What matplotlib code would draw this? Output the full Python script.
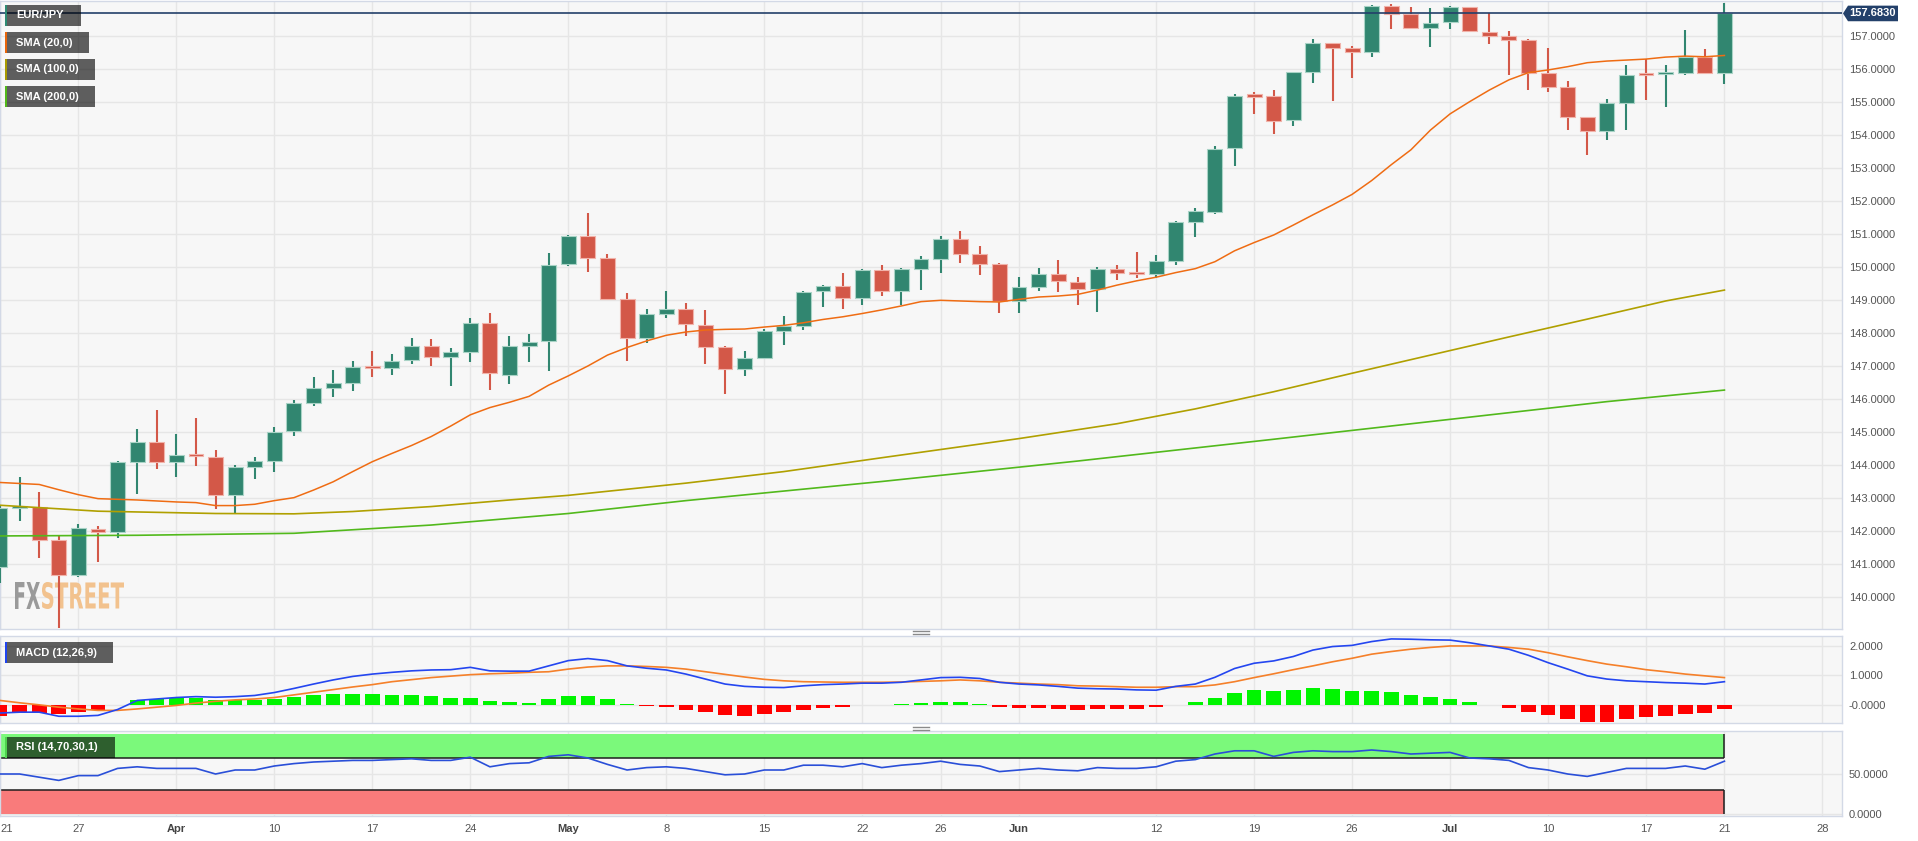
import numpy as np
import pandas as pd
import matplotlib
matplotlib.use('Agg')
import matplotlib.pyplot as plt
from matplotlib.patches import Polygon, Rectangle, PathPatch
from matplotlib.lines import Line2D
from matplotlib.textpath import TextPath
from matplotlib.font_manager import FontProperties
from matplotlib.transforms import Affine2D, IdentityTransform, blended_transform_factory

plt.rcParams['font.family'] = ['Liberation Sans', 'DejaVu Sans']

W, H = 1918, 841

# EUR/JPY daily candles, 2023-03-21 .. 2023-07-21
opens = [140.91, 142.69, 142.72, 141.73, 140.67, 142.06, 141.96, 144.08, 144.70, 144.08,
         144.30, 144.25, 143.08, 143.93, 144.12, 145.03, 145.89, 146.33, 146.47, 146.97,
         146.95, 147.17, 147.60, 147.28, 147.41, 148.29, 146.74, 147.62, 147.75, 150.10,
         150.94, 150.26, 149.04, 147.84, 148.59, 148.72, 148.23, 147.57, 146.90, 147.25,
         148.06, 148.21, 149.26, 149.41, 149.06, 149.90, 149.27, 149.95, 150.23, 150.84,
         150.40, 150.08, 148.97, 149.40, 149.80, 149.56, 149.34, 149.93, 149.82, 149.79,
         150.17, 151.36, 151.67, 153.61, 155.19, 155.18, 154.44, 155.90, 156.78, 156.63,
         156.51, 157.91, 157.66, 157.25, 157.41, 157.87, 157.13, 157.00, 156.88, 155.87,
         155.44, 154.53, 154.12, 154.97, 155.83, 155.84, 155.89, 156.35, 155.89]
highs = [142.75, 143.64, 143.19, 141.85, 142.21, 142.15, 144.12, 145.09, 145.67, 144.94,
         145.42, 144.45, 144.00, 144.24, 145.15, 145.97, 146.67, 146.88, 147.15, 147.45,
         147.36, 147.85, 147.82, 147.55, 148.45, 148.61, 147.91, 147.97, 150.42, 150.97,
         151.63, 150.38, 149.20, 148.72, 149.26, 148.92, 148.69, 147.60, 147.46, 148.13,
         148.50, 149.27, 149.44, 149.81, 149.93, 150.05, 149.96, 150.33, 150.94, 151.08,
         150.64, 150.11, 149.69, 149.96, 150.20, 149.71, 150.01, 150.05, 150.45, 150.35,
         151.38, 151.78, 153.68, 155.24, 155.31, 155.36, 155.92, 156.91, 156.80, 156.70,
         157.93, 157.97, 157.89, 157.85, 157.91, 157.89, 157.69, 157.15, 156.90, 156.63,
         155.64, 154.55, 155.09, 156.12, 156.29, 156.11, 157.18, 156.61, 158.01]
lows = [140.42, 142.31, 141.18, 139.05, 140.60, 141.06, 141.80, 143.13, 143.89, 143.65,
        143.98, 142.68, 142.56, 143.57, 143.80, 144.89, 145.80, 146.07, 146.25, 146.68,
        146.74, 147.05, 147.01, 146.40, 147.13, 146.28, 146.46, 147.13, 146.86, 150.03,
        149.85, 149.02, 147.15, 147.71, 148.44, 147.91, 147.06, 146.14, 146.70, 147.22,
        147.64, 148.09, 148.79, 148.72, 148.84, 149.11, 148.84, 149.30, 149.81, 150.11,
        149.75, 148.60, 148.62, 149.26, 149.24, 148.85, 148.64, 149.61, 149.68, 149.68,
        150.05, 150.92, 151.62, 153.06, 154.64, 154.03, 154.27, 155.59, 155.04, 155.74,
        156.37, 157.21, 157.21, 156.68, 157.21, 157.13, 156.77, 155.83, 155.37, 155.31,
        154.16, 153.40, 153.86, 154.16, 155.07, 154.86, 155.83, 155.86, 155.55]
closes = [142.70, 142.74, 141.73, 140.67, 142.09, 141.97, 144.08, 144.70, 144.08, 144.30,
          144.26, 143.08, 143.93, 144.12, 145.01, 145.89, 146.32, 146.47, 146.97, 146.93,
          147.15, 147.60, 147.28, 147.41, 148.29, 146.80, 147.61, 147.74, 150.07, 150.94,
          150.26, 149.04, 147.84, 148.59, 148.72, 148.26, 147.59, 146.90, 147.25, 148.06,
          148.21, 149.25, 149.41, 149.06, 149.90, 149.27, 149.95, 150.23, 150.84, 150.40,
          150.08, 148.97, 149.40, 149.80, 149.58, 149.34, 149.93, 149.81, 149.79, 150.17,
          151.36, 151.71, 153.58, 155.19, 155.16, 154.43, 155.90, 156.78, 156.65, 156.51,
          157.91, 157.67, 157.25, 157.40, 157.89, 157.15, 157.01, 156.89, 155.88, 155.46,
          154.54, 154.12, 154.96, 155.83, 155.81, 155.87, 156.35, 155.89, 157.683]

sma20 = [143.47, 143.44, 143.41, 143.25, 143.10, 142.98, 142.96, 142.94, 142.91, 142.88,
         142.86, 142.77, 142.77, 142.81, 142.92, 143.01, 143.24, 143.49, 143.80, 144.10,
         144.35, 144.59, 144.86, 145.18, 145.52, 145.74, 145.90, 146.08, 146.42, 146.70,
         147.00, 147.33, 147.56, 147.76, 147.93, 148.03, 148.09, 148.11, 148.12, 148.18,
         148.23, 148.31, 148.41, 148.49, 148.59, 148.70, 148.82, 148.95, 148.99, 148.97,
         148.95, 148.94, 149.02, 149.09, 149.12, 149.17, 149.30, 149.45, 149.58, 149.69,
         149.83, 149.95, 150.16, 150.49, 150.74, 150.97, 151.27, 151.58, 151.88, 152.20,
         152.62, 153.10, 153.55, 154.15, 154.64, 155.01, 155.36, 155.67, 155.89, 155.97,
         156.07, 156.19, 156.24, 156.27, 156.30, 156.36, 156.39, 156.37, 156.41]

# slow averages, read at a handful of dates
sma100_dates = ['2023-03-21', '2023-03-28', '2023-04-05', '2023-04-11', '2023-04-14',
                '2023-04-20', '2023-04-26', '2023-05-01', '2023-05-09', '2023-05-16',
                '2023-05-23', '2023-06-01', '2023-06-08', '2023-06-14', '2023-06-20',
                '2023-06-26', '2023-06-30', '2023-07-06', '2023-07-12', '2023-07-18',
                '2023-07-21']
sma100 = [142.78, 142.60, 142.53, 142.52, 142.59, 142.74, 142.94, 143.08, 143.45, 143.80,
          144.22, 144.80, 145.25, 145.70, 146.22, 146.78, 147.33, 147.88, 148.42, 148.97,
          149.30]
sma200_dates = ['2023-03-21', '2023-03-30', '2023-04-11', '2023-04-20', '2023-05-01',
                '2023-05-09', '2023-05-23', '2023-06-06', '2023-06-20', '2023-07-04',
                '2023-07-13', '2023-07-21']
sma200 = [141.85, 141.87, 141.93, 142.18, 142.53, 142.92, 143.50, 144.12, 144.78, 145.45,
          145.92, 146.27]

macd = [-0.29, -0.26, -0.26, -0.40, -0.40, -0.37, -0.17, 0.14, 0.19, 0.24,
        0.27, 0.25, 0.27, 0.31, 0.41, 0.55, 0.70, 0.84, 0.96, 1.04,
        1.10, 1.15, 1.18, 1.19, 1.27, 1.15, 1.14, 1.14, 1.32, 1.50,
        1.57, 1.50, 1.32, 1.24, 1.18, 1.04, 0.87, 0.70, 0.62, 0.59,
        0.58, 0.64, 0.68, 0.70, 0.73, 0.73, 0.76, 0.84, 0.92, 0.93,
        0.89, 0.76, 0.70, 0.67, 0.62, 0.56, 0.54, 0.53, 0.50, 0.49,
        0.62, 0.70, 0.93, 1.23, 1.41, 1.49, 1.64, 1.86, 1.98, 2.02,
        2.15, 2.24, 2.23, 2.21, 2.20, 2.11, 2.00, 1.89, 1.68, 1.43,
        1.21, 0.98, 0.87, 0.81, 0.78, 0.75, 0.73, 0.70, 0.78]
signal = [0.14, 0.06, -0.01, -0.09, -0.15, -0.20, -0.20, -0.15, -0.09, -0.03,
          0.05, 0.11, 0.16, 0.19, 0.24, 0.33, 0.42, 0.51, 0.60, 0.68,
          0.78, 0.85, 0.92, 0.97, 1.02, 1.05, 1.07, 1.10, 1.12, 1.21,
          1.28, 1.32, 1.32, 1.30, 1.27, 1.21, 1.12, 1.03, 0.94, 0.86,
          0.81, 0.78, 0.77, 0.76, 0.76, 0.76, 0.77, 0.79, 0.81, 0.84,
          0.81, 0.76, 0.73, 0.70, 0.68, 0.64, 0.63, 0.61, 0.59, 0.59,
          0.61, 0.61, 0.67, 0.78, 0.92, 1.05, 1.19, 1.32, 1.46, 1.58,
          1.72, 1.81, 1.89, 1.95, 2.00, 2.00, 2.00, 1.95, 1.89, 1.77,
          1.63, 1.50, 1.38, 1.29, 1.19, 1.12, 1.04, 0.98, 0.92]
hist = [-0.39, -0.29, -0.29, -0.33, -0.24, -0.20, 0.0, 0.15, 0.20, 0.24,
        0.24, 0.16, 0.15, 0.15, 0.19, 0.27, 0.33, 0.35, 0.37, 0.35,
        0.34, 0.33, 0.28, 0.24, 0.24, 0.12, 0.09, 0.06, 0.18, 0.28,
        0.28, 0.18, 0.01, -0.06, -0.10, -0.17, -0.26, -0.35, -0.38, -0.32,
        -0.27, -0.18, -0.11, -0.09, -0.03, -0.03, 0.02, 0.05, 0.08, 0.08,
        0.03, -0.07, -0.11, -0.11, -0.14, -0.17, -0.15, -0.14, -0.14, -0.10,
        0.0, 0.07, 0.23, 0.41, 0.49, 0.46, 0.51, 0.55, 0.52, 0.46,
        0.47, 0.42, 0.34, 0.25, 0.18, 0.08, -0.02, -0.11, -0.25, -0.36,
        -0.49, -0.60, -0.59, -0.51, -0.44, -0.38, -0.32, -0.28, -0.16]

rsi = [50, 50, 46, 42, 48, 48, 57, 59, 57, 57,
       57, 50, 55, 55, 60, 63, 65, 66, 67, 67,
       68, 69, 67, 67, 71, 59, 63, 64, 72, 74,
       70, 62, 55, 58, 59, 57, 53, 49, 50, 55,
       55, 61, 61, 59, 63, 58, 61, 63, 66, 62,
       60, 53, 55, 57, 55, 54, 58, 57, 57, 59,
       66, 68, 75, 79, 79, 72, 77, 79, 78, 78,
       80, 78, 75, 76, 77, 70, 69, 67, 58, 55,
       50, 47, 52, 57, 57, 57, 60, 56, 66]

tick_dates = ['2023-03-21', '2023-03-27', '2023-04-03', '2023-04-10', '2023-04-17',
              '2023-04-24', '2023-05-01', '2023-05-08', '2023-05-15', '2023-05-22',
              '2023-05-26', '2023-06-01', '2023-06-12', '2023-06-19', '2023-06-26',
              '2023-07-03', '2023-07-10', '2023-07-17', '2023-07-21', '2023-07-28']
tick_labels = ['21', '27', 'Apr', '10', '17', '24', 'May', '8', '15', '22',
               '26', 'Jun', '12', '19', '26', 'Jul', '10', '17', '21', '28']
month_labels = {'Apr', 'May', 'Jun', 'Jul'}

days = pd.bdate_range('2023-03-21', '2023-07-28')
day_pos = {d.strftime('%Y-%m-%d'): i for i, d in enumerate(days)}
x = np.arange(len(closes))
tick_x = [day_pos[d] for d in tick_dates]

GREEN, RED = '#318670', '#d35848'
GRID = '#e6e6e6'
BG = '#f7f7f7'
SPINE = '#d3d9e6'
XMIN, XMAX = 0.02, 94.0

fig = plt.figure(figsize=(W / 100, H / 100), dpi=100)
fig.patch.set_facecolor('white')


def px_axes(x0, y0, x1, y1):
    return fig.add_axes([x0 / W, 1 - y1 / H, (x1 - x0) / W, (y1 - y0) / H])


ax = px_axes(0, 1, 1842, 629)
ax_m = px_axes(0, 636, 1842, 723)
ax_r = px_axes(0, 731, 1842, 816)

for a in (ax, ax_m, ax_r):
    a.set_facecolor(BG)
    a.set_xlim(XMIN, XMAX)
    a.yaxis.tick_right()
    a.tick_params(axis='y', length=0, pad=5, labelsize=8, labelcolor='#555555')
    a.tick_params(axis='x', length=0)
    for s in a.spines.values():
        s.set_color(SPINE)
        s.set_linewidth(1)
    a.set_xticks(tick_x)
    a.grid(True, color=GRID, lw=1)
    a.set_axisbelow(True)

# ---- price panel
o, h, l, c = map(np.array, (opens, highs, lows, closes))
up = c >= o
cols = np.where(up, GREEN, RED)
edges = np.where(up, '#a9d3c6', '#f1b3aa')
ax.vlines(x, l, h, colors=cols, lw=1.5, zorder=3)
ax.bar(x, np.maximum(np.abs(c - o), 0.07), bottom=np.minimum(o, c), width=0.76,
       color=cols, edgecolor=edges, linewidth=0.8, zorder=4)

ax.plot([day_pos[d] for d in sma200_dates], sma200, color='#52b91c', lw=1.2, zorder=5)
ax.plot([day_pos[d] for d in sma100_dates], sma100, color='#b0a000', lw=1.2, zorder=5)
ax.plot(x, sma20, color='#ef6c13', lw=1.1, zorder=5)

ax.set_ylim(139.03, 158.06)
ax.set_yticks(range(140, 158))
ax.set_yticklabels([f'{v:.4f}' for v in range(140, 158)])
ax.set_xticklabels([])

last = closes[-1]
ax.axhline(last, color='#23406a', lw=1.2, zorder=6)
tr = blended_transform_factory(fig.transFigure, ax.transData)
th = 7.8 / 33
tag = Polygon([(1843 / W, last), (1848 / W, last + th), (1898 / W, last + th),
               (1898 / W, last - th), (1848 / W, last - th)], closed=True,
              transform=tr, facecolor='#23406a', edgecolor='none', clip_on=False, zorder=10)
ax.add_patch(tag)
ax.text(1873 / W, last, f'{last:.4f}', transform=tr, color='white', fontsize=8,
        fontweight='bold', ha='center', va='center', clip_on=False, zorder=11)

# watermark
fp = FontProperties(family='DejaVu Sans', weight='bold')


def squeezed(text, x0, x1, ytop, ybot, color):
    tp = TextPath((0, 0), text, size=100, prop=fp)
    bb = tp.get_extents()
    t = Affine2D().translate(-bb.x0, -bb.y0).scale((x1 - x0) / bb.width, (ybot - ytop) / bb.height)
    t = t.translate(x0, H - ybot)
    ax.add_patch(PathPatch(t.transform_path(tp), transform=IdentityTransform(),
                           facecolor=color, lw=0, zorder=1))


squeezed('FX', 15, 40, 582, 609, '#9a9a9a')
squeezed('STREET', 42, 124, 582, 609, '#f2c28e')

# ---- MACD panel
ax_m.bar(x, hist, width=0.75, color=np.where(np.array(hist) >= 0, '#00f500', '#ff0000'),
         edgecolor='none', zorder=3)
ax_m.plot(x, signal, color='#f5802a', lw=1.2, zorder=4)
ax_m.plot(x, macd, color='#2446f0', lw=1.2, zorder=5)
ax_m.set_ylim(-0.63, 2.34)
ax_m.set_yticks([0, 1, 2])
ax_m.set_yticklabels(['-0.0000', '1.0000', '2.0000'])
ax_m.set_xticklabels([])

# ---- RSI panel
ax_r.add_patch(Rectangle((XMIN, 70), x[-1] - XMIN, 30, facecolor='#7bf97b', lw=0, zorder=1))
ax_r.add_patch(Rectangle((XMIN, 0), x[-1] - XMIN, 30, facecolor='#f97b7b', lw=0, zorder=1))
ax_r.hlines([70, 30], XMIN, x[-1], colors='#1e1e1e', lw=1.1, zorder=2)
ax_r.vlines(x[-1], 70, 100, colors='#1e1e1e', lw=1.1, zorder=2)
ax_r.vlines(x[-1], 0, 30, colors='#1e1e1e', lw=1.1, zorder=2)
ax_r.plot(x, rsi, color='#2a4fd8', lw=1.2, zorder=4)
ax_r.set_ylim(-2.5, 103.75)
ax_r.set_yticks([0, 50])
ax_r.set_yticklabels(['0.0000', '50.0000'])
ax_r.tick_params(axis='x', labelsize=8, labelcolor='#555555', pad=6)
ax_r.set_xticklabels(tick_labels)
for lab in ax_r.get_xticklabels():
    if lab.get_text() in month_labels:
        lab.set_fontweight('bold')
        lab.set_color('#444444')
ax_r.get_xticklabels()[0].set_horizontalalignment('left')


# ---- label boxes
def label_box(x0, y0, x1, y1, text, stripe):
    fig.add_artist(Rectangle((x0 / W, 1 - y1 / H), (x1 - x0) / W, (y1 - y0) / H,
                             transform=fig.transFigure, facecolor='black', alpha=0.62,
                             lw=0, zorder=10))
    fig.add_artist(Rectangle((x0 / W, 1 - y1 / H), 2 / W, (y1 - y0) / H,
                             transform=fig.transFigure, facecolor=stripe, lw=0, zorder=11))
    fig.text((x0 + 11) / W, 1 - (y0 + y1) / 2 / H, text, color='white', fontsize=8,
             fontweight='bold', ha='left', va='center', zorder=12)


label_box(5, 5, 81, 26, 'EUR/JPY', '#2e8b74')
label_box(5, 32, 89, 53, 'SMA (20,0)', '#e8650a')
label_box(5, 59, 95, 80, 'SMA (100,0)', '#a89a00')
label_box(5, 86, 95, 107, 'SMA (200,0)', '#52b81a')
label_box(5, 642, 113, 663, 'MACD (12,26,9)', '#1f44f0')
label_box(5, 737, 115, 758, 'RSI (14,70,30,1)', '#4fd24f')

# panel separators
for yy in (632, 728):
    for dy in (-1.5, 1.5):
        fig.add_artist(Line2D([913 / W, 929 / W], [1 - (yy + dy) / H] * 2,
                              transform=fig.transFigure, color='#8a8a8a', lw=1))

fig.savefig('out.png', dpi=100, facecolor='white')
